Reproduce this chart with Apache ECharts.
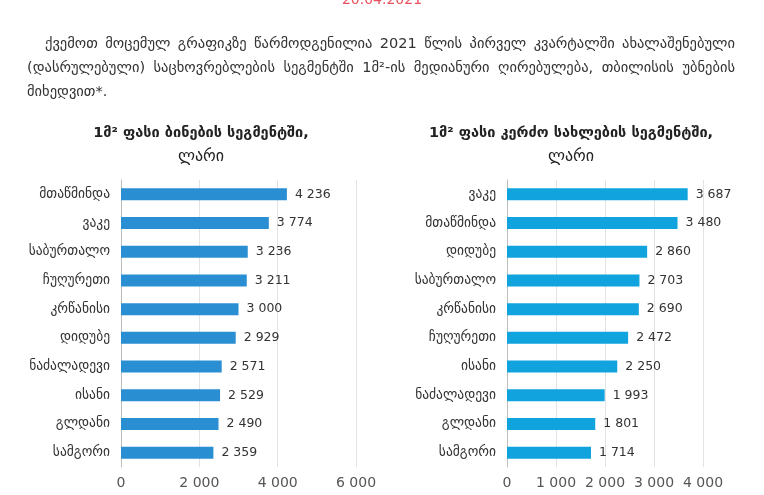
<!DOCTYPE html>
<html><head><meta charset="utf-8">
<script src="https://cdn.jsdelivr.net/npm/echarts@6/dist/echarts.min.js"></script>
<style>
html,body{margin:0;padding:0;background:#fff;}
#wrap{position:relative;width:764px;height:495px;overflow:hidden;}
#chart{position:absolute;left:0;top:0;width:764px;height:495px;}
#date{position:absolute;left:0;width:764px;top:-9px;text-align:center;color:#e8525e;font:14px "DejaVu Sans",sans-serif;}
#para{position:absolute;left:27px;top:31px;width:708px;color:#333;font:14.5px/24px "DejaVu Sans",sans-serif;text-align:justify;text-indent:18px;}
</style></head>
<body><div id="wrap"><div id="chart"></div>
<div id="date">20.04.2021</div>
<div id="para">ქვემოთ მოცემულ გრაფიკზე წარმოდგენილია 2021 წლის პირველ კვარტალში ახალაშენებული (დასრულებული) საცხოვრებლების სეგმენტში 1მ²-ის მედიანური ღირებულება, თბილისის უბნების მიხედვით*.</div>
</div>
<script>
const flatCategories = ['მთაწმინდა','ვაკე','საბურთალო','ჩუღურეთი','კრწანისი','დიდუბე','ნაძალადევი','ისანი','გლდანი','სამგორი'];
const flatValues = [4236,3774,3236,3211,3000,2929,2571,2529,2490,2359];
const houseCategories = ['ვაკე','მთაწმინდა','დიდუბე','საბურთალო','კრწანისი','ჩუღურეთი','ისანი','ნაძალადევი','გლდანი','სამგორი'];
const houseValues = [3687,3480,2860,2703,2690,2472,2250,1993,1801,1714];
const flatTitle = ['1მ² ფასი ბინების სეგმენტში,','ლარი'];
const houseTitle = ['1მ² ფასი კერძო სახლების სეგმენტში,','ლარი'];

const fmt = v => String(v).replace(/\B(?=(\d{3})+(?!\d))/g, ' ');
const FONT = '"DejaVu Sans", sans-serif';

function xAx(gi, max, interval){
  return {gridIndex:gi, type:'value', min:0, max:max, interval:interval,
    axisLine:{show:false}, axisTick:{show:false},
    splitLine:{lineStyle:{color:'#e3e3e3', width:1}},
    axisLabel:{formatter:fmt, color:'#555', fontSize:14, fontFamily:FONT, margin:9}};
}
function yAx(gi, cats){
  return {gridIndex:gi, type:'category', data:cats, inverse:true,
    axisLine:{lineStyle:{color:'#bdbdbd'}}, axisTick:{show:false},
    axisLabel:{color:'#333', fontSize:13.5, fontFamily:FONT, margin:11}};
}
function ser(gi, vals, color){
  return {type:'bar', xAxisIndex:gi, yAxisIndex:gi, data:vals, barWidth:12,
    itemStyle:{color:color},
    label:{show:true, position:'right', distance:8, formatter:p=>fmt(p.value),
      color:'#333', fontSize:12.5, fontFamily:FONT}};
}
const chart = echarts.init(document.getElementById('chart'), null, {renderer:'canvas'});
chart.setOption({
  animation:false,
  grid:[{left:121, right:408, top:180, bottom:28},{left:507, right:61, top:180, bottom:28}],
  xAxis:[xAx(0,6000,2000), xAx(1,4000,1000)],
  yAxis:[yAx(0,flatCategories), yAx(1,houseCategories)],
  series:[ser(0,flatValues,'#2a8fd2'), ser(1,houseValues,'#10a3de')],
  graphic:[
    {type:'text', x:201, y:133, style:{text:flatTitle[0], align:'center', verticalAlign:'middle', font:'bold 14.5px '+FONT, fill:'#222'}},
    {type:'text', x:201, y:157, style:{text:flatTitle[1], align:'center', verticalAlign:'middle', font:'16px '+FONT, fill:'#222'}},
    {type:'text', x:571, y:133, style:{text:houseTitle[0], align:'center', verticalAlign:'middle', font:'bold 14.5px '+FONT, fill:'#222'}},
    {type:'text', x:571, y:157, style:{text:houseTitle[1], align:'center', verticalAlign:'middle', font:'16px '+FONT, fill:'#222'}}
  ]
});
</script></body></html>
